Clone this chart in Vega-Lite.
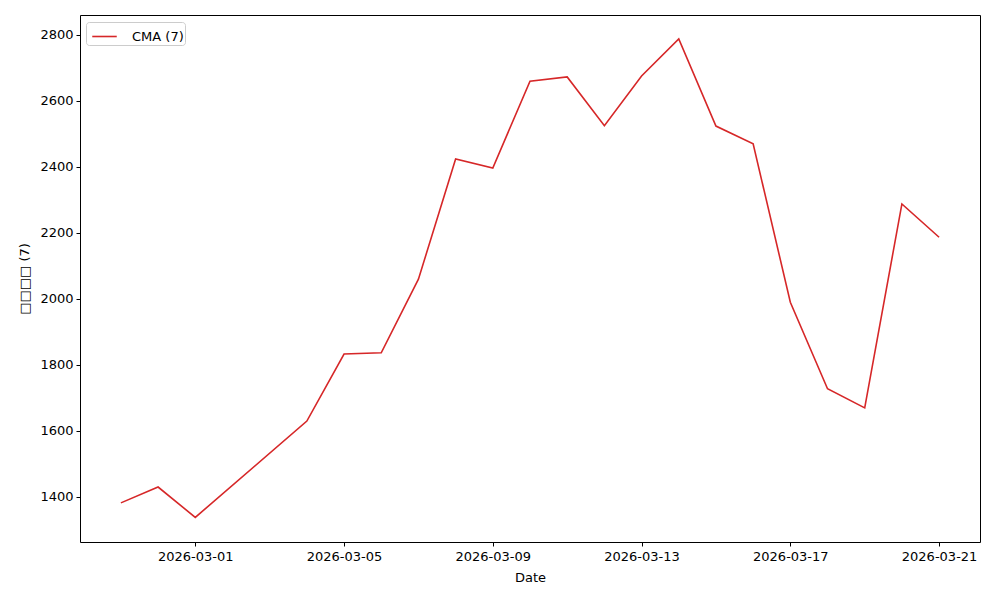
{
  "$schema": "https://vega.github.io/schema/vega-lite/v6.json",
  "width": 900,
  "height": 527,
  "autosize": {"type": "none"},
  "padding": {"left": 80, "top": 15, "right": 20, "bottom": 58},
  "background": "white",
  "config": {
    "font": "DejaVu Sans",
    "view": {"stroke": "black", "strokeWidth": 1},
    "axis": {
      "domain": false,
      "grid": false,
      "ticks": true,
      "tickColor": "black",
      "tickSize": 4,
      "tickWidth": 1,
      "labelColor": "black",
      "labelFontSize": 13,
      "labelFont": "DejaVu Sans",
      "titleFont": "DejaVu Sans",
      "titleFontSize": 13,
      "titleFontWeight": "normal",
      "titleColor": "black"
    }
  },
  "data": {
    "values": [
      {"date": "2026-02-27", "value": 1382},
      {"date": "2026-02-28", "value": 1430},
      {"date": "2026-03-01", "value": 1338},
      {"date": "2026-03-04", "value": 1630},
      {"date": "2026-03-05", "value": 1833},
      {"date": "2026-03-06", "value": 1837},
      {"date": "2026-03-07", "value": 2060},
      {"date": "2026-03-08", "value": 2424},
      {"date": "2026-03-09", "value": 2397},
      {"date": "2026-03-10", "value": 2660},
      {"date": "2026-03-11", "value": 2673},
      {"date": "2026-03-12", "value": 2525},
      {"date": "2026-03-13", "value": 2676},
      {"date": "2026-03-14", "value": 2788},
      {"date": "2026-03-15", "value": 2524},
      {"date": "2026-03-16", "value": 2470},
      {"date": "2026-03-17", "value": 1990},
      {"date": "2026-03-18", "value": 1728},
      {"date": "2026-03-19", "value": 1670},
      {"date": "2026-03-20", "value": 2288},
      {"date": "2026-03-21", "value": 2187}
    ]
  },
  "mark": {"type": "line", "strokeWidth": 1.6, "clip": true},
  "encoding": {
    "x": {
      "field": "date",
      "type": "temporal",
      "scale": {
        "type": "utc",
        "domain": [
          {"year": 2026, "month": 2, "date": 25, "hours": 21, "minutes": 36, "utc": true},
          {"year": 2026, "month": 3, "date": 22, "hours": 2, "minutes": 24, "utc": true}
        ]
      },
      "axis": {
        "title": "Date",
        "labelExpr": "utcFormat(datum.value, '%Y-%m-%d')",
        "values": [
          {"year": 2026, "month": 3, "date": 1, "utc": true},
          {"year": 2026, "month": 3, "date": 5, "utc": true},
          {"year": 2026, "month": 3, "date": 9, "utc": true},
          {"year": 2026, "month": 3, "date": 13, "utc": true},
          {"year": 2026, "month": 3, "date": 17, "utc": true},
          {"year": 2026, "month": 3, "date": 21, "utc": true}
        ],
        "labelPadding": 4,
        "titlePadding": 8
      }
    },
    "y": {
      "field": "value",
      "type": "quantitative",
      "scale": {"domain": [1263.4, 2860.6], "nice": false, "zero": false},
      "axis": {
        "title": "□□□□ (7)",
        "format": "d",
        "values": [1400, 1600, 1800, 2000, 2200, 2400, 2600, 2800],
        "labelPadding": 3,
        "titlePadding": 8
      }
    },
    "color": {
      "datum": "CMA (7)",
      "type": "nominal",
      "scale": {"range": ["#d62728"]},
      "legend": {
        "title": null,
        "orient": "none",
        "legendX": 6,
        "legendY": 7,
        "fillColor": "white",
        "strokeColor": "#cccccc",
        "cornerRadius": 3,
        "padding": 1,
        "symbolOffset": 4,
        "symbolType": "stroke",
        "symbolStrokeWidth": 1.6,
        "symbolSize": 600,
        "labelFontSize": 13,
        "labelOffset": 14,
        "labelFont": "DejaVu Sans",
        "labelColor": "black"
      }
    }
  }
}
